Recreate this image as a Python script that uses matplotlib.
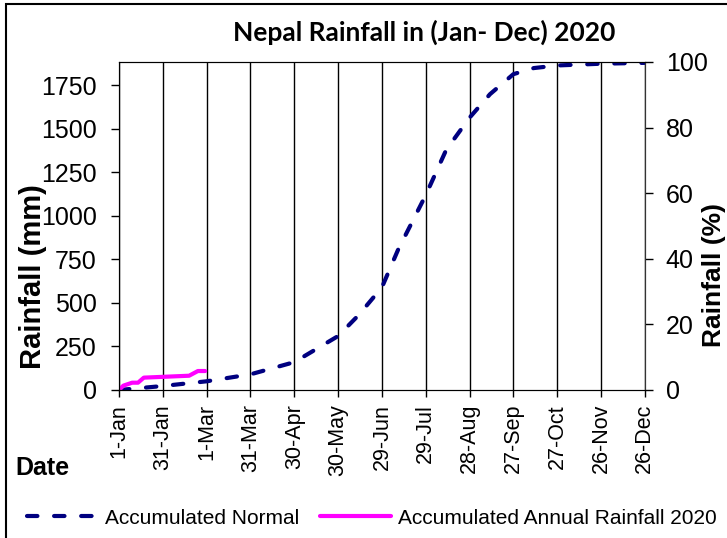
import matplotlib
matplotlib.use("Agg")
import matplotlib.pyplot as plt
from matplotlib.patches import Rectangle

# x axis ticks (days since 1-Jan-2020)
tick_days = [0, 30, 60, 90, 120, 150, 180, 210, 240, 270, 300, 330, 360]
tick_labels = ["1-Jan", "31-Jan", "1-Mar", "31-Mar", "30-Apr", "30-May", "29-Jun",
               "29-Jul", "28-Aug", "27-Sep", "27-Oct", "26-Nov", "26-Dec"]

# accumulated normal rainfall (mm)
normal_days = [0, 30, 60, 90, 120, 150, 164, 180, 191, 210, 224, 240, 254, 270, 284, 300, 330, 360]
normal_mm = [0, 23, 50, 90, 160, 310, 430, 590, 805, 1120, 1380, 1565, 1700, 1815, 1850, 1865, 1875, 1880]

# accumulated 2020 rainfall (mm)
rain_days = [0, 3, 9, 13, 17, 48, 54, 59]
rain_mm = [0, 25, 42, 42, 71, 82, 109, 109]

plt.rcParams["font.family"] = ["Liberation Sans", "DejaVu Sans"]

fig = plt.figure(figsize=(7.27, 5.38), dpi=100)
ax = fig.add_axes([0.1637, 0.2751, 0.7233, 0.6097])

ax.plot(normal_days, normal_mm, color="#000080", lw=3, dashes=(2.5, 4),
        dash_capstyle="round", label="Accumulated Normal")
ax.plot(rain_days, rain_mm, color="#FF00FF", lw=3, solid_capstyle="round",
        label="Accumulated Annual Rainfall 2020")

ax.set_xlim(0, 360)
ax.set_ylim(0, 1885)
ax.set_xticks(tick_days)
ax.set_xticklabels(tick_labels, rotation=90, fontsize=15.5)
ax.set_yticks([0, 250, 500, 750, 1000, 1250, 1500, 1750])
ax.tick_params(axis="y", labelsize=18, length=6, width=1, pad=10)
ax.tick_params(axis="x", length=5, width=1, pad=5)
ax.grid(axis="x", color="black", lw=1)
for s in ax.spines.values():
    s.set_color("#333333")

ax.set_ylabel("Rainfall (mm)", fontsize=21, fontweight="bold")
ax.yaxis.set_label_coords(-0.137, 0.345)

ax2 = ax.twinx()
ax2.set_ylim(0, 100)
ax2.set_yticks([0, 20, 40, 60, 80, 100])
ax2.tick_params(axis="y", labelsize=18, length=6, width=1, pad=9)
ax2.spines["right"].set_color("#333333")
ax2.set_ylabel("Rainfall (%)", fontsize=19, fontweight="bold")
ax2.yaxis.set_label_coords(1.108, 0.35)

fig.text(0.583, 0.939, "Nepal Rainfall in (Jan- Dec) 2020", fontsize=19,
         fontweight="bold", family=["Lato", "DejaVu Sans"], ha="center", va="center")
fig.text(0.021, 0.13, "Date", fontsize=18, fontweight="bold", va="center")

handles, labels = ax.get_legend_handles_labels()
fig.legend(handles, labels, loc="center left", bbox_to_anchor=(0.037, 0.037), ncol=2,
           frameon=False, fontsize=15, handlelength=3.4, columnspacing=1.0,
           handletextpad=0.35, borderpad=0, borderaxespad=0)

fig.patches.append(Rectangle((0.008, -0.05), 1.2, 1.042, transform=fig.transFigure,
                             fill=False, edgecolor="black", lw=1.5))

fig.savefig("out.png", dpi=100)
